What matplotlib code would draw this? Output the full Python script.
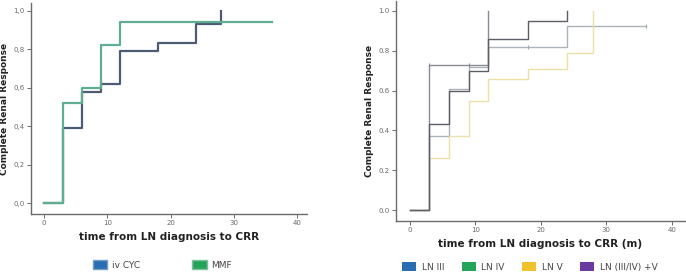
import matplotlib
matplotlib.use("Agg")
import matplotlib.pyplot as plt
from matplotlib.patches import Patch
from matplotlib.ticker import FuncFormatter

# ---- data (left panel) ----
cyc_t = [0, 3, 6, 9, 12, 18, 24, 28]
cyc_s = [0.0, 0.39, 0.58, 0.62, 0.79, 0.83, 0.93, 1.0]
mmf_t = [0, 3, 6, 9, 12, 36]
mmf_s = [0.0, 0.52, 0.60, 0.82, 0.94, 0.94]

# ---- data (right panel) ----
ln3_t = [0, 3, 6, 9, 12, 18, 24]
ln3_s = [0.0, 0.43, 0.60, 0.70, 0.86, 0.95, 1.0]
ln4_t = [0, 3, 6, 9, 12, 24, 36]
ln4_s = [0.0, 0.37, 0.61, 0.72, 0.82, 0.925, 0.925]
ln5_t = [0, 3, 6, 9, 12, 18, 24, 28]
ln5_s = [0.0, 0.26, 0.37, 0.55, 0.66, 0.71, 0.79, 1.0]
lnmix_t = [0, 3, 12]
lnmix_s = [0.0, 0.73, 1.0]

ln4_cens_t = [18, 36]
ln4_cens_s = [0.82, 0.925]
lnmix_cens_t = [3, 9]
lnmix_cens_s = [0.73, 0.73]

x_ticks = [0, 10, 20, 30, 40]
y_ticks = [0.0, 0.2, 0.4, 0.6, 0.8, 1.0]

left_labels = ["iv CYC", "MMF"]
right_labels = ["LN III", "LN IV", "LN V", "LN (III/IV) +V"]

fig = plt.figure(figsize=(6.86, 2.79), dpi=100)

axL = fig.add_axes([31/686, 1-214/279, (307-31)/686, (214-3)/279])
axR = fig.add_axes([396/686, 1-221/279, (685-396)/686, (221-1)/279])

grey = "#6b6b6b"

def style(ax, comma):
    for s in ["top", "right"]:
        ax.spines[s].set_visible(False)
    for s in ["left", "bottom"]:
        ax.spines[s].set_color(grey)
        ax.spines[s].set_linewidth(1.0)
    ax.set_xticks(x_ticks)
    ax.set_yticks(y_ticks)
    ax.tick_params(axis="both", labelsize=5, colors=grey, length=3, width=0.7, pad=1.5)
    if comma:
        ax.yaxis.set_major_formatter(FuncFormatter(lambda v, p: f"{v:.1f}".replace(".", ",")))
    else:
        ax.yaxis.set_major_formatter(FuncFormatter(lambda v, p: f"{v:.1f}"))
    ax.set_ylabel("Complete Renal Response", fontsize=6.5, fontweight="bold", color="#222222", labelpad=3)

# left
axL.step(cyc_t, cyc_s, where="post", color="#4c5c74", lw=1.6)
axL.step(mmf_t, mmf_s, where="post", color="#5fae92", lw=1.6)
axL.set_xlim(-2.05, 41.5)
axL.set_ylim(-0.055, 1.04)
style(axL, True)
axL.set_xlabel("time from LN diagnosis to CRR", fontsize=7.5, fontweight="bold", color="#222222", labelpad=4)

# right
axR.step(ln4_t, ln4_s, where="post", color="#a9b3ba", lw=1.0)
axR.step(ln5_t, ln5_s, where="post", color="#ecdfa8", lw=1.0)
axR.step(lnmix_t, lnmix_s, where="post", color="#8a8a96", lw=1.0)
axR.step(ln3_t, ln3_s, where="post", color="#5e5e66", lw=1.0)
axR.plot(ln4_cens_t, ln4_cens_s, ls="none", marker="|", ms=3, color="#a0a8b0", mew=0.8)
axR.plot(lnmix_cens_t, lnmix_cens_s, ls="none", marker="|", ms=3, color="#8a8a96", mew=0.8)
axR.set_xlim(-2.1, 42)
axR.set_ylim(-0.055, 1.05)
style(axR, False)
axR.set_xlabel("time from LN diagnosis to CRR (m)", fontsize=7.5, fontweight="bold", color="#222222", labelpad=4)

# legends
hL = [Patch(facecolor="#2a6db3", edgecolor="#7a9cc0"), Patch(facecolor="#24a35a", edgecolor="#80c0a0")]
fig.legend(hL, left_labels, loc="center left", bbox_to_anchor=(93/686, 1-265/279), ncol=2,
           frameon=False, fontsize=6.5, handlelength=1.6, handleheight=1.1, columnspacing=5.8,
           handletextpad=0.5, labelcolor="#444444", borderaxespad=0, borderpad=0)
hR = [Patch(facecolor="#2a6db3"), Patch(facecolor="#24a35a"), Patch(facecolor="#f2c12e"), Patch(facecolor="#6b3aa0")]
fig.legend(hR, right_labels, loc="center left", bbox_to_anchor=(402/686, 1-267/279), ncol=4,
           frameon=False, fontsize=6.5, handlelength=1.6, handleheight=1.1, columnspacing=1.9,
           handletextpad=0.6, labelcolor="#444444", borderaxespad=0, borderpad=0)

fig.savefig("out.png", dpi=100)
